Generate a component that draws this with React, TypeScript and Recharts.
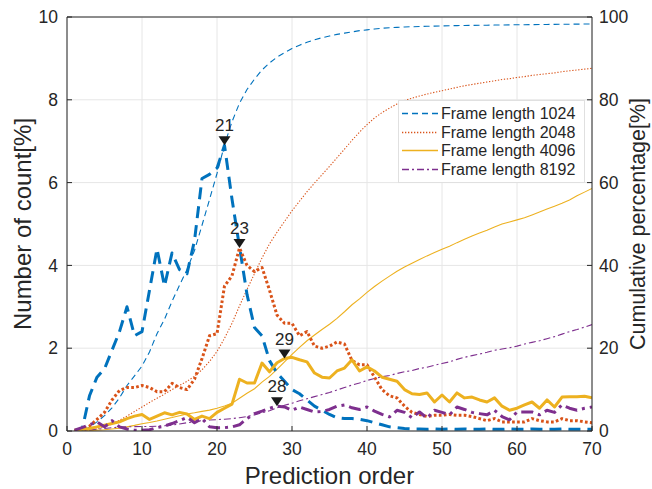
import React from 'react';
import {
  ComposedChart,
  Line,
  XAxis,
  YAxis,
  CartesianGrid,
  ReferenceDot,
  Legend,
  Label,
} from 'recharts';

// ---------- data ----------
const orders: number[] = Array.from({ length: 70 }, (_, i) => i + 1);

const count1024 = [
  0, 0.02, 0.85, 1.3, 1.5, 1.95, 2.4, 3.0, 2.3, 2.4,
  3.4, 4.4, 3.5, 4.3, 3.9, 3.8, 4.6, 6.1, 6.2, 6.35,
  6.9, 5.6, 4.45, 3.3, 2.5, 2.3, 1.7, 1.4, 1.2, 1.0,
  0.9, 0.75, 0.6, 0.5, 0.4, 0.32, 0.3, 0.3, 0.28, 0.25,
  0.2, 0.15, 0.1, 0.08, 0.06, 0.05, 0.05, 0.04, 0.05, 0.04,
  0.05, 0.04, 0.05, 0.04, 0.04, 0.05, 0.04, 0.04, 0.05, 0.04,
  0.04, 0.05, 0.04, 0.04, 0.04, 0.05, 0.04, 0.04, 0.04, 0.04,
];
const count2048 = [
  0, 0.05, 0.12, 0.28, 0.45, 0.75, 0.98, 1.05, 1.05, 1.1,
  1.05, 0.95, 0.95, 1.15, 1.05, 1.0, 1.25, 1.75, 2.3, 2.35,
  3.5, 3.75, 4.42, 4.0, 3.85, 3.95, 3.4, 2.8, 2.6, 2.6,
  2.3, 2.4, 2.05, 2.0, 2.05, 2.15, 2.1, 1.7, 1.6, 1.6,
  1.3, 1.0, 0.85, 0.8, 0.6, 0.45, 0.4, 0.35, 0.38, 0.38,
  0.4, 0.38, 0.38, 0.35, 0.3, 0.25, 0.3, 0.22, 0.22, 0.22,
  0.22, 0.3, 0.25, 0.22, 0.22, 0.3, 0.25, 0.25, 0.22, 0.2,
];
const count4096 = [
  0.02, 0.04, 0.06, 0.1, 0.14, 0.18, 0.22, 0.3, 0.36, 0.4,
  0.28, 0.36, 0.44, 0.39, 0.45, 0.41, 0.28, 0.36, 0.3, 0.45,
  0.55, 0.65, 1.25, 1.16, 1.16, 1.64, 1.43, 1.65, 1.75, 1.78,
  1.72, 1.67, 1.4, 1.3, 1.28, 1.45, 1.52, 1.72, 1.45, 1.55,
  1.45, 1.3, 1.25, 1.2, 1.0, 0.9, 0.88, 0.92, 0.7, 0.87,
  0.7, 0.92, 0.8, 0.82, 0.75, 0.7, 0.8, 0.6, 0.5, 0.55,
  0.63, 0.7, 0.55, 0.75, 0.58, 0.82, 0.83, 0.83, 0.84, 0.8,
];
const count8192 = [
  0.02, 0.08, 0.15, 0.22, 0.1, 0.25, 0.1, 0.05, 0.02, 0.02,
  0.03, 0.08, 0.12, 0.18, 0.25, 0.33, 0.2, 0.3, 0.1, 0.08,
  0.08, 0.1, 0.15, 0.3, 0.42, 0.48, 0.55, 0.6, 0.58, 0.5,
  0.58, 0.52, 0.46, 0.47, 0.52, 0.6, 0.63, 0.56, 0.52, 0.58,
  0.48, 0.4, 0.34, 0.5, 0.45, 0.32, 0.46, 0.31, 0.5, 0.45,
  0.39, 0.58, 0.52, 0.45, 0.42, 0.39, 0.5, 0.35, 0.27, 0.46,
  0.46, 0.46, 0.39, 0.5, 0.45, 0.63, 0.55, 0.5, 0.55, 0.58,
];

const cum1024 = [
  0, 0.02, 0.9, 2.2, 3.7, 5.6, 8.0, 11.0, 13.3, 15.7,
  19.1, 23.5, 27.0, 31.3, 35.2, 39.0, 43.6, 49.7, 55.9, 62.2,
  69.1, 74.7, 79.2, 82.5, 85.0, 87.2, 88.9, 90.3, 91.4, 92.4,
  93.2, 93.9, 94.5, 95.0, 95.4, 95.8, 96.1, 96.4, 96.7, 96.9,
  97.1, 97.3, 97.4, 97.5, 97.6, 97.65, 97.7, 97.75, 97.8, 97.85,
  97.9, 97.92, 97.95, 97.98, 98.0, 98.02, 98.05, 98.07, 98.1, 98.12,
  98.14, 98.16, 98.18, 98.2, 98.22, 98.24, 98.26, 98.28, 98.3, 98.32,
];
const cum2048 = [
  0, 0.05, 0.2, 0.5, 1.0, 1.7, 2.6, 3.6, 4.7, 5.8,
  6.9, 7.9, 8.9, 10.0, 11.0, 12.0, 13.2, 14.8, 16.8, 19.2,
  22.4, 26.0, 30.2, 34.2, 38.0, 41.8, 45.2, 48.0, 50.6, 53.2,
  55.5, 57.8, 59.9, 61.9, 63.9, 66.0, 68.1, 70.2, 72.2, 74.0,
  75.6, 76.9, 78.0, 79.0, 79.8, 80.4, 80.9, 81.4, 81.8, 82.2,
  82.6, 83.0, 83.4, 83.7, 84.0, 84.3, 84.6, 84.9, 85.1, 85.4,
  85.6, 85.9, 86.1, 86.3, 86.5, 86.8, 87.0, 87.2, 87.4, 87.6,
];
const cum4096 = [
  0.02, 0.05, 0.1, 0.2, 0.3, 0.5, 0.7, 1.0, 1.35, 1.75,
  2.05, 2.4, 2.85, 3.25, 3.7, 4.1, 4.4, 4.75, 5.05, 5.5,
  6.05, 6.7, 7.9, 9.1, 10.2, 11.8, 13.2, 14.9, 16.7, 18.5,
  20.2, 21.8, 23.2, 24.5, 25.8, 27.2, 28.8, 30.5, 31.9, 33.5,
  34.9, 36.2, 37.4, 38.6, 39.6, 40.5, 41.4, 42.3, 43.1, 43.9,
  44.6, 45.5, 46.3, 47.1, 47.8, 48.5, 49.3, 50.0, 50.5, 51.0,
  51.5, 52.2, 52.9, 53.6, 54.3, 55.0, 55.8, 56.8, 57.7, 58.6,
];
const cum8192 = [
  0, 0.1, 0.25, 0.45, 0.6, 0.8, 0.95, 1.0, 1.05, 1.08,
  1.1, 1.15, 1.25, 1.45, 1.7, 2.0, 2.2, 2.5, 2.65, 2.75,
  2.85, 3.0, 3.2, 3.5, 3.9, 4.4, 4.9, 5.6, 6.2, 6.7,
  7.3, 7.8, 8.3, 8.8, 9.3, 9.9, 10.5, 11.1, 11.6, 12.2,
  12.7, 13.1, 13.4, 13.9, 14.3, 14.6, 15.1, 15.4, 15.9, 16.3,
  16.7, 17.3, 17.8, 18.2, 18.6, 19.0, 19.5, 19.8, 20.1, 20.5,
  21.0, 21.4, 21.8, 22.3, 22.8, 23.4, 24.0, 24.5, 25.1, 25.7,
];

const xTicks = [0, 10, 20, 30, 40, 50, 60, 70];
const leftTicks = [0, 2, 4, 6, 8, 10];
const rightTicks = [0, 20, 40, 60, 80, 100];

const seriesNames = ['Frame length 1024', 'Frame length 2048', 'Frame length 4096', 'Frame length 8192'];
const peakOrders = [21, 23, 29, 28];

// ---------- styles ----------
const FONT = '"Liberation Sans", Arial, Helvetica, sans-serif';
const AXIS = '#262626';
const GRID = '#e6e6e6';
const COLORS = ['#0072BD', '#D95319', '#EDB120', '#7E2F8E'];
const THICK_DASH = ['12 7', '2.7 2.3', undefined, '12 5 3 5'];
const THIN_DASH = ['6 4', '1.3 1.7', undefined, '7 3 2 3'];
const THICK_W = 3;
const THIN_W = 1.1;

const countArrays = [count1024, count2048, count4096, count8192];
const cumArrays = [cum1024, cum2048, cum4096, cum8192];

const data = orders.map((x, i) => ({
  x,
  c0: count1024[i],
  c1: count2048[i],
  c2: count4096[i],
  c3: count8192[i],
  s0: cum1024[i],
  s1: cum2048[i],
  s2: cum4096[i],
  s3: cum8192[i],
}));

const PeakMarker = (props: any) => {
  const { cx, cy, text } = props;
  if (cx == null || cy == null) return null;
  return (
    <g>
      <polygon points={`${cx - 6},${cy - 9} ${cx + 6},${cy - 9} ${cx},${cy}`} fill="#1a1a1a" />
      <text
        x={cx}
        y={cy - 14}
        textAnchor="middle"
        fontSize={17}
        fill={AXIS}
        fontFamily={FONT}
      >
        {text}
      </text>
    </g>
  );
};

const LegendBox = () => (
  <div
    style={{
      width: 187,
      height: 83,
      boxSizing: 'border-box',
      background: '#fff',
      border: '1px solid #e0e0e0',
      position: 'relative',
      fontFamily: FONT,
    }}
  >
    {seriesNames.map((name, i) => (
      <div
        key={name}
        style={{
          position: 'absolute',
          left: 0,
          top: 3 + i * 18.6,
          height: 19,
          display: 'flex',
          alignItems: 'center',
        }}
      >
        <svg width={40} height={19} style={{ display: 'block' }}>
          <line
            x1={3}
            x2={39}
            y1={9.5}
            y2={9.5}
            stroke={COLORS[i]}
            strokeWidth={THIN_W + 0.2}
            strokeDasharray={THIN_DASH[i]}
          />
        </svg>
        <span style={{ fontSize: 16, color: AXIS, marginLeft: 2, whiteSpace: 'nowrap', lineHeight: '19px' }}>
          {name}
        </span>
      </div>
    ))}
  </div>
);

const tickStyle = { fontSize: 17.5, fill: AXIS, fontFamily: FONT };

export default function App() {
  return (
    <div style={{ position: 'absolute', left: 0, top: 0, width: 652, height: 489, background: '#fff' }}>
      <ComposedChart
        width={652}
        height={489}
        data={data}
        margin={{ top: 0, right: 0, bottom: 0, left: 0 }}
        style={{ fontFamily: FONT }}
      >
        <CartesianGrid
          xAxisId="bottom"
          yAxisId="left"
          stroke={GRID}
          strokeWidth={1}
          horizontalValues={leftTicks}
          verticalValues={xTicks}
        />
        <XAxis
          xAxisId="bottom"
          dataKey="x"
          type="number"
          domain={[0, 70]}
          ticks={xTicks}
          allowDataOverflow
          height={58}
          tickSize={-5}
          tickMargin={17}
          tick={tickStyle}
          stroke={AXIS}
          axisLine={{ stroke: AXIS, strokeWidth: 1 }}
          tickLine={{ stroke: AXIS }}
        >
          <Label
            content={() => (
              <text
                x={329.5}
                y={484}
                textAnchor="middle"
                fontSize={24}
                fill={AXIS}
                fontFamily={FONT}
              >
                Prediction order
              </text>
            )}
          />
        </XAxis>
        <XAxis
          xAxisId="top"
          orientation="top"
          dataKey="x"
          type="number"
          domain={[0, 70]}
          ticks={xTicks}
          allowDataOverflow
          height={17}
          tickSize={-5}
          tick={false}
          axisLine={{ stroke: AXIS, strokeWidth: 1 }}
          tickLine={{ stroke: AXIS }}
        />
        <YAxis
          yAxisId="left"
          orientation="left"
          type="number"
          domain={[0, 10]}
          ticks={leftTicks}
          allowDataOverflow
          width={67}
          tickSize={-5}
          tickMargin={14}
          tick={tickStyle}
          axisLine={{ stroke: AXIS, strokeWidth: 1 }}
          tickLine={{ stroke: AXIS }}
        >
          <Label
            content={() => (
              <text
                transform="translate(31,224) rotate(-90)"
                textAnchor="middle"
                fontSize={24}
                fill={AXIS}
                fontFamily={FONT}
              >
                Number of count[%]
              </text>
            )}
          />
        </YAxis>
        <YAxis
          yAxisId="right"
          orientation="right"
          type="number"
          domain={[0, 100]}
          ticks={rightTicks}
          allowDataOverflow
          width={60}
          tickSize={-5}
          tickMargin={12}
          tick={tickStyle}
          axisLine={{ stroke: AXIS, strokeWidth: 1 }}
          tickLine={{ stroke: AXIS }}
        >
          <Label
            content={() => (
              <text
                transform="translate(645,224) rotate(-90)"
                textAnchor="middle"
                fontSize={21.5}
                fill={AXIS}
                fontFamily={FONT}
              >
                Cumulative percentage[%]
              </text>
            )}
          />
        </YAxis>

        {cumArrays.map((_, i) => (
          <Line
            key={`s${i}`}
            xAxisId="bottom"
            yAxisId="right"
            type="linear"
            dataKey={`s${i}`}
            stroke={COLORS[i]}
            strokeWidth={THIN_W}
            strokeDasharray={THIN_DASH[i]}
            dot={false}
            activeDot={false}
            isAnimationActive={false}
            connectNulls
          />
        ))}
        {countArrays.map((_, i) => (
          <Line
            key={`c${i}`}
            xAxisId="bottom"
            yAxisId="left"
            type="linear"
            dataKey={`c${i}`}
            stroke={COLORS[i]}
            strokeWidth={THICK_W}
            strokeDasharray={THICK_DASH[i]}
            strokeLinejoin="round"
            dot={false}
            activeDot={false}
            isAnimationActive={false}
            connectNulls
          />
        ))}

        {peakOrders.map((p, i) => (
          <ReferenceDot
            key={`peak${i}`}
            xAxisId="bottom"
            yAxisId="left"
            x={p}
            y={countArrays[i][orders.indexOf(p)]}
            r={6}
            shape={(props: any) => <PeakMarker {...props} text={String(p)} />}
          />
        ))}

        <Legend
          layout="vertical"
          align="center"
          verticalAlign="middle"
          content={() => <LegendBox />}
          wrapperStyle={{ left: 398, top: 100, width: 187, height: 83, position: 'absolute' }}
        />
      </ComposedChart>
    </div>
  );
}
